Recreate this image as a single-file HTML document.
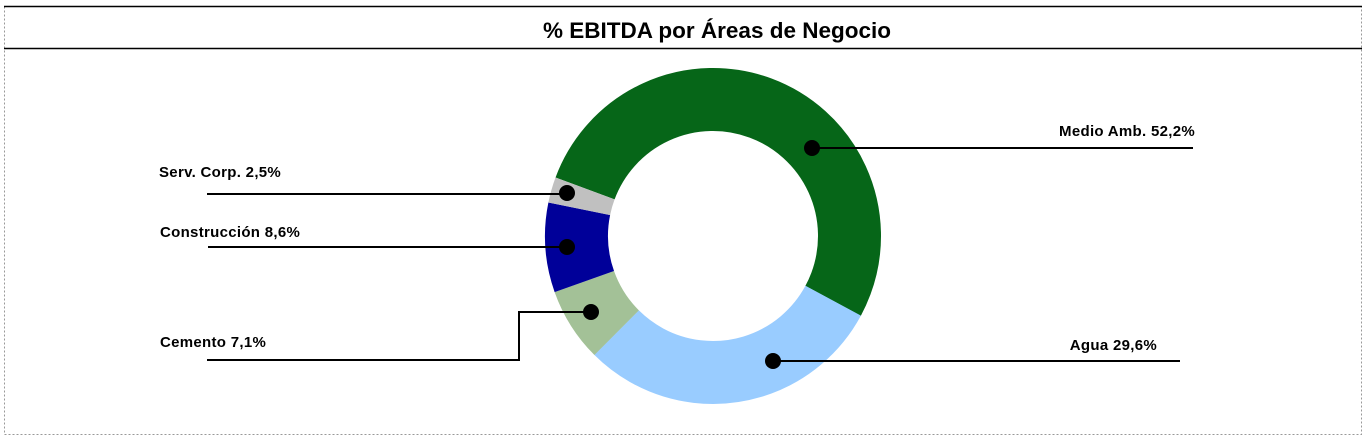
<!DOCTYPE html>
<html><head><meta charset="utf-8"><style>
html,body{margin:0;padding:0;background:#fff;}
svg{display:block;font-family:"Liberation Sans",sans-serif;font-weight:bold;}
</style></head><body>
<svg width="1367" height="440" viewBox="0 0 1367 440" xmlns="http://www.w3.org/2000/svg">
<rect x="4.5" y="6.5" width="1357" height="428" fill="none" stroke="#999" stroke-dasharray="2,2"/>
<line x1="4" y1="6.5" x2="1362" y2="6.5" stroke="#000" stroke-width="1.5"/>
<line x1="4" y1="48.5" x2="1362" y2="48.5" stroke="#000" stroke-width="1.5"/>
<text x="717" y="38" font-size="22.5" text-anchor="middle">% EBITDA por Áreas de Negocio</text>
<g transform="translate(713,236)" fill="none" stroke-width="63">
<circle r="136.5" stroke="#066618" stroke-dasharray="447.7 1000" transform="rotate(200.4)"/>
<circle r="136.5" stroke="#99ccff" stroke-dasharray="254.0 1000" transform="rotate(28.3)"/>
<circle r="136.5" stroke="#a3c197" stroke-dasharray="61.0 1000" transform="rotate(134.9)"/>
<circle r="136.5" stroke="#000099" stroke-dasharray="73.9 1000" transform="rotate(160.5)"/>
<circle r="136.5" stroke="#c0c0c0" stroke-dasharray="21.2 1000" transform="rotate(191.5)"/>
</g>
<g stroke="#000" stroke-width="2" fill="none">
<line x1="207" y1="194" x2="567" y2="194"/>
<line x1="208" y1="247" x2="567" y2="247"/>
<polyline points="207,360 519,360 519,312 591,312"/>
<line x1="812" y1="148" x2="1193" y2="148"/>
<line x1="773" y1="361" x2="1180" y2="361"/>
</g>
<g fill="#000">
<circle cx="567" cy="193" r="8"/>
<circle cx="567" cy="247" r="8"/>
<circle cx="591" cy="312" r="8"/>
<circle cx="812" cy="148" r="8"/>
<circle cx="773" cy="361" r="8"/>
</g>
<g font-size="15" fill="#000" letter-spacing="0.3">
<text x="159" y="177">Serv. Corp. 2,5%</text>
<text x="160" y="237">Construcción 8,6%</text>
<text x="160" y="347">Cemento 7,1%</text>
<text x="1195" y="136" text-anchor="end">Medio Amb. 52,2%</text>
<text x="1157" y="350" text-anchor="end">Agua 29,6%</text>
</g>
</svg>
</body></html>
